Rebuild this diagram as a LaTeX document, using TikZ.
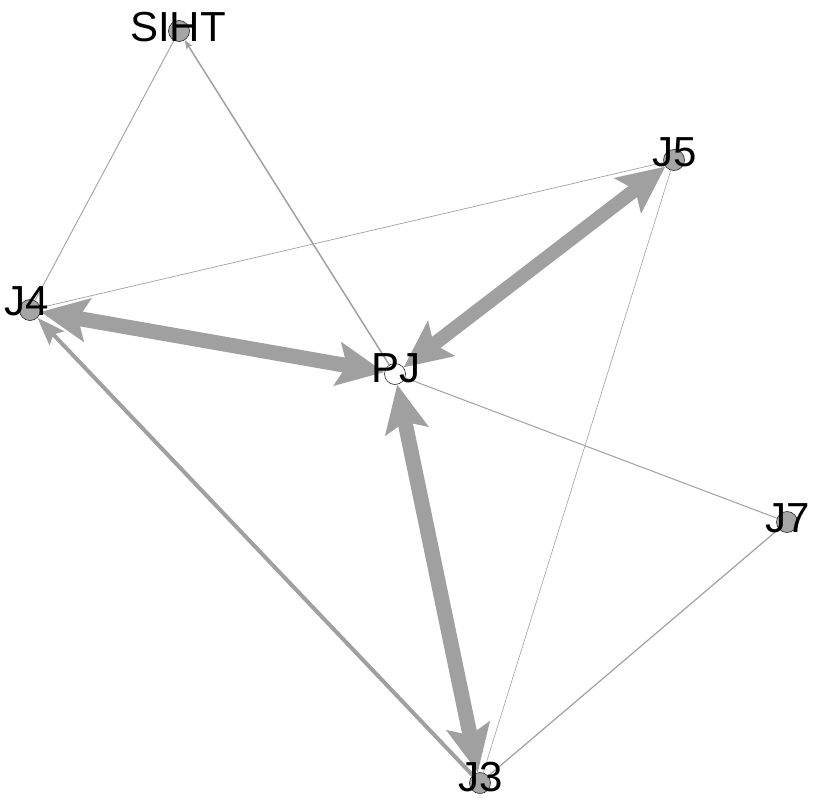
\documentclass[tikz,border=0pt]{standalone}
\usepackage{fontspec}
\setmainfont{Liberation Sans}
\usetikzlibrary{arrows.meta}
\definecolor{edgec}{RGB}{160,160,160}
\definecolor{vfill}{RGB}{165,165,165}
\tikzset{
  BigHead/.tip={Stealth[length=47pt,width=43pt,inset=9pt]},
  MidHead/.tip={Stealth[length=28pt,width=20pt,inset=5pt]},
  SmallHead/.tip={Stealth[length=9pt,width=7pt,inset=2pt]},
}
\begin{document}
\begin{tikzpicture}[x=1pt,y=-1pt,
  vert/.style={circle, draw=black!85, line width=0.6pt, fill=vfill, minimum size=21pt, inner sep=0pt},
  lab/.style={font=\fontsize{42}{48}\selectfont, inner sep=0pt, text=black},
  edge/.style={draw=edgec}]
\useasboundingbox (0,0) rectangle (814,800);
% vertices
\node[vert] (SIHT) at (179,31) {};
\node[vert] (J5) at (674,160) {};
\node[vert] (J4) at (30,310) {};
\node[vert, fill=white] (PJ) at (395,374) {};
\node[vert] (J7) at (787,522) {};
\node[vert] (J3) at (480,783) {};
% edges
\draw[edge, line width=0.9pt] (SIHT) -- (J4);
\draw[edge, line width=0.7pt] (J4) -- (J5);
\draw[edge, line width=0.6pt] (J5) -- (J3);
\draw[edge, line width=1pt] (PJ) -- (J7);
\draw[edge, line width=1.2pt] (J7) -- (J3);
\draw[edge, line width=1.5pt, -{SmallHead}] (PJ) -- (SIHT);
\draw[edge, line width=4pt, -{MidHead}] (J3) -- (J4);
\draw[edge, line width=15pt, {BigHead}-{BigHead}] (J4) -- (PJ);
\draw[edge, line width=14pt, {BigHead}-{BigHead}] (PJ) -- (J5);
\draw[edge, line width=15pt, {BigHead}-{BigHead}] (PJ) -- (J3);
% labels
\node[lab] (lSIHT) at (178,27) {SIHT};
\node[lab] (lJ5) at (675,152) {J5};
\node[lab] (lJ4) at (27,301) {J4};
\node[lab] (lPJ) at (396,368) {PJ};
\node[lab] (lJ7) at (788,518) {J7};
\node[lab] (lJ3) at (481,777) {J3};
\end{tikzpicture}
\end{document}
